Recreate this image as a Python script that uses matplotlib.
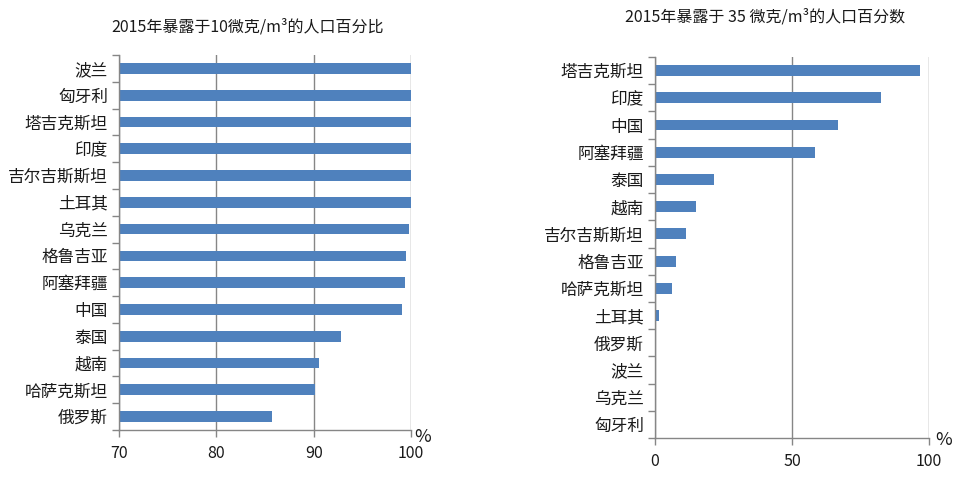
import numpy as np
import matplotlib.pyplot as plt

plt.rcParams['font.family'] = ['Noto Sans CJK SC', 'DejaVu Sans']

# left panel: share of population exposed above 10 ug/m3
left_countries = ['波兰', '匈牙利', '塔吉克斯坦', '印度', '吉尔吉斯斯坦', '土耳其', '乌克兰',
                  '格鲁吉亚', '阿塞拜疆', '中国', '泰国', '越南', '哈萨克斯坦', '俄罗斯']
left_values = [100, 100, 100, 100, 100, 100, 99.8, 99.5, 99.4, 99.1, 92.8, 90.5, 90.1, 85.7]
left_ticks = [70, 80, 90, 100]
left_title = '2015年暴露于10微克/m³的人口百分比'

# right panel: share of population exposed above 35 ug/m3
right_countries = ['塔吉克斯坦', '印度', '中国', '阿塞拜疆', '泰国', '越南', '吉尔吉斯斯坦',
                   '格鲁吉亚', '哈萨克斯坦', '土耳其', '俄罗斯', '波兰', '乌克兰', '匈牙利']
right_values = [96.6, 82.3, 66.7, 58.3, 21.4, 14.8, 11.2, 7.5, 6.2, 1.3, 0.5, 0.4, 0.0, 0.0]
right_ticks = [0, 50, 100]
right_title = '2015年暴露于 35 微克/m³的人口百分数'

W, H = 961, 495
bar_color = '#4F81BD'
axis_color = '#868686'
text_color = '#1a1a1a'


def draw_panel(ax, names, vals, ticks, title_txt):
    n = len(names)
    y = np.arange(n)
    lo = ticks[0]
    ax.barh(y, np.array(vals) - lo, left=lo, height=0.4, color=bar_color, zorder=3)
    ax.set_ylim(n - 0.5, -0.5)
    ax.set_xlim(ticks[0], ticks[-1])
    ax.set_yticks(y)
    ax.set_yticklabels(names)
    ax.set_yticks(np.arange(n + 1) - 0.5, minor=True)
    ax.set_xticks(ticks)
    ax.tick_params(axis='y', which='major', length=0, pad=8, labelsize=12, colors=text_color)
    ax.tick_params(axis='y', which='minor', length=5, width=1, color=axis_color, direction='out')
    ax.tick_params(axis='x', which='major', length=5, width=1, color=axis_color,
                   labelsize=11.5, labelcolor=text_color, pad=6)
    ax.grid(axis='x', color=axis_color, linewidth=1, zorder=0)
    for s in ['top', 'right']:
        ax.spines[s].set_visible(False)
    for s in ['left', 'bottom']:
        ax.spines[s].set_color(axis_color)
        ax.spines[s].set_linewidth(1)
        ax.spines[s].set_zorder(4)


fig = plt.figure(figsize=(W / 100, H / 100), dpi=100)

ax1 = fig.add_axes([119 / W, (H - 430) / H, (411 - 119) / W, (430 - 55) / H])
draw_panel(ax1, left_countries, left_values, left_ticks, left_title)
ax2 = fig.add_axes([655 / W, (H - 438) / H, (929 - 655) / W, (438 - 57) / H])
draw_panel(ax2, right_countries, right_values, right_ticks, right_title)

fig.text(248 / W, 1 - 27 / H, left_title, ha='center', va='center', fontsize=11.5, color=text_color)
fig.text(765 / W, 1 - 17 / H, right_title, ha='center', va='center', fontsize=11.5, color=text_color)
fig.text(423 / W, 1 - 437 / H, '%', ha='center', va='center', fontsize=13, color=text_color)
fig.text(944 / W, 1 - 440 / H, '%', ha='center', va='center', fontsize=13, color=text_color)

fig.savefig('out.png', dpi=100)
